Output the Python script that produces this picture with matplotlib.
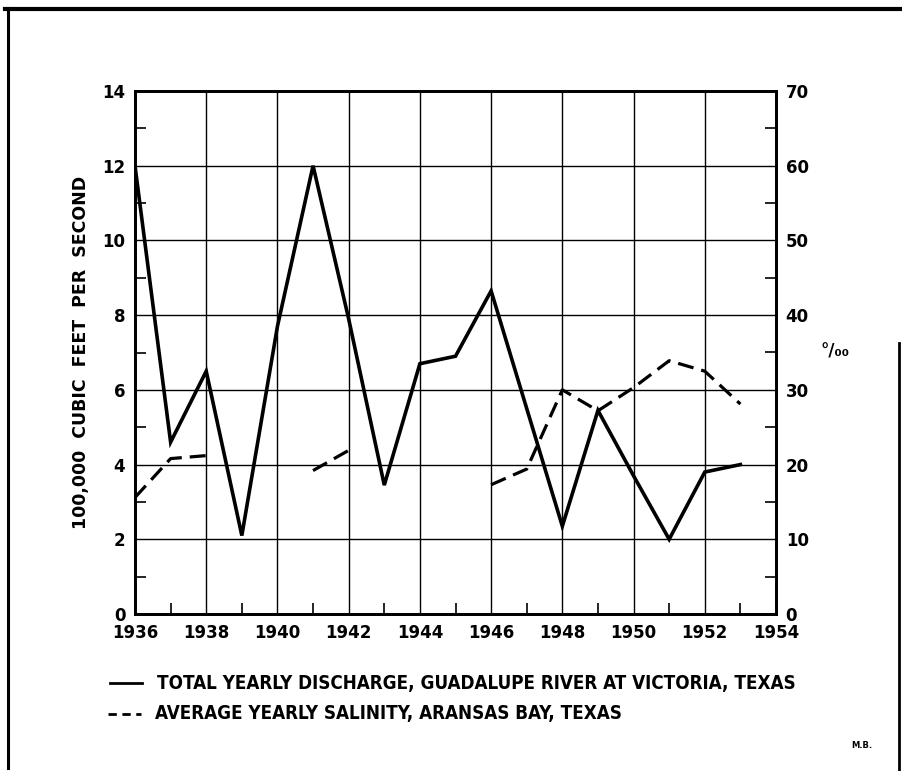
import numpy as np
import matplotlib
matplotlib.use("Agg")
import matplotlib.pyplot as plt
from matplotlib.lines import Line2D
from matplotlib.ticker import MultipleLocator

years = np.arange(1936, 1954)

# total yearly discharge, 100,000 cfs
discharge = [12.0, 4.6, 6.5, 2.1, 7.7, 12.0, 7.9, 3.45, 6.7, 6.9,
             8.65, 5.5, 2.35, 5.45, 3.7, 2.0, 3.8, 4.0]

# average yearly salinity, parts per thousand (gaps = no record)
salinity = [15.6, 20.8, 21.2, np.nan, np.nan, 19.2, 21.9, np.nan, np.nan, np.nan,
            17.3, 19.4, 30.0, 27.2, 30.3, 33.9, 32.5, 28.1]

x_ticks = list(range(1936, 1955, 2))
left_ticks = list(range(0, 15, 2))
right_ticks = list(range(0, 71, 10))

W, H = 902, 771
bold = dict(family="DejaVu Sans", fontweight="bold")
narrow = dict(family="DejaVu Sans", fontweight="bold", fontstretch="condensed")

fig = plt.figure(figsize=(W / 100, H / 100), dpi=100)
ax = fig.add_axes([135 / W, 1 - 614 / H, (776 - 135) / W, (614 - 91) / H])
ax2 = ax.twinx()

ax.plot(years, discharge, color="black", lw=2.6, solid_joinstyle="miter")
ax2.plot(years, salinity, color="black", lw=2.3, dashes=(5, 2.5))

ax.set_xlim(1936, 1954)
ax.set_ylim(0, 14)
ax2.set_ylim(0, 70)

ax.set_xticks(x_ticks)
ax.set_yticks(left_ticks)
ax2.set_yticks(right_ticks)
ax.xaxis.set_minor_locator(MultipleLocator(1))
ax.yaxis.set_minor_locator(MultipleLocator(1))
ax2.yaxis.set_minor_locator(MultipleLocator(5))

ax.grid(True, which="major", color="black", lw=1.0)
ax.set_axisbelow(True)

ax.tick_params(which="major", length=0, pad=7, labelsize=12)
ax.tick_params(which="minor", direction="in", length=8, width=1.2)
ax.tick_params(axis="x", which="minor", top=False)
ax2.tick_params(which="major", length=0, pad=7, labelsize=12)
ax2.tick_params(which="minor", direction="in", length=8, width=1.2)

for lab in ax.get_xticklabels() + ax.get_yticklabels() + ax2.get_yticklabels():
    lab.set_fontweight("bold")

for a in (ax, ax2):
    for s in a.spines.values():
        s.set_linewidth(2.0)

ax.set_ylabel("100,000  CUBIC  FEET  PER  SECOND", fontsize=12.5, labelpad=9, **bold)
fig.text(820 / W, 1 - 352 / H, "°/₀₀", fontsize=12, ha="left", va="center", **bold)

# legend drawn by hand below the plot
fig.add_artist(Line2D([110 / W, 142 / W], [1 - 683 / H] * 2, color="black", lw=2.0))
fig.add_artist(Line2D([108 / W, 141 / W], [1 - 714 / H] * 2, color="black", lw=2.0,
                      dashes=(3, 2)))
t1 = fig.text(157 / W, 1 - 683 / H, "TOTAL YEARLY DISCHARGE, GUADALUPE RIVER AT VICTORIA, TEXAS",
              fontsize=14.5, va="center", ha="left", **narrow)
t2 = fig.text(155 / W, 1 - 714 / H, "AVERAGE YEARLY SALINITY, ARANSAS BAY, TEXAS",
              fontsize=14.5, va="center", ha="left", **narrow)

# shrink the legend lettering if it runs wider than the plot
renderer = fig.canvas.get_renderer()
width = t1.get_window_extent(renderer).width
if width > 640:
    size = 14.5 * 640 / width
    t1.set_fontsize(size)
    t2.set_fontsize(size)

fig.text(862 / W, 1 - 745 / H, "M.B.", fontsize=6, ha="center", va="center", **bold)

# sheet border
fig.add_artist(Line2D([5 / W, 1.0], [1 - 9 / H] * 2, color="black", lw=3.0))
fig.add_artist(Line2D([8 / W] * 2, [1 - 8 / H, 1 - 768 / H], color="black", lw=2.2))
fig.add_artist(Line2D([899 / W] * 2, [1 - 343 / H, 0.0], color="black", lw=2.0))

fig.savefig("out.png", dpi=100)
